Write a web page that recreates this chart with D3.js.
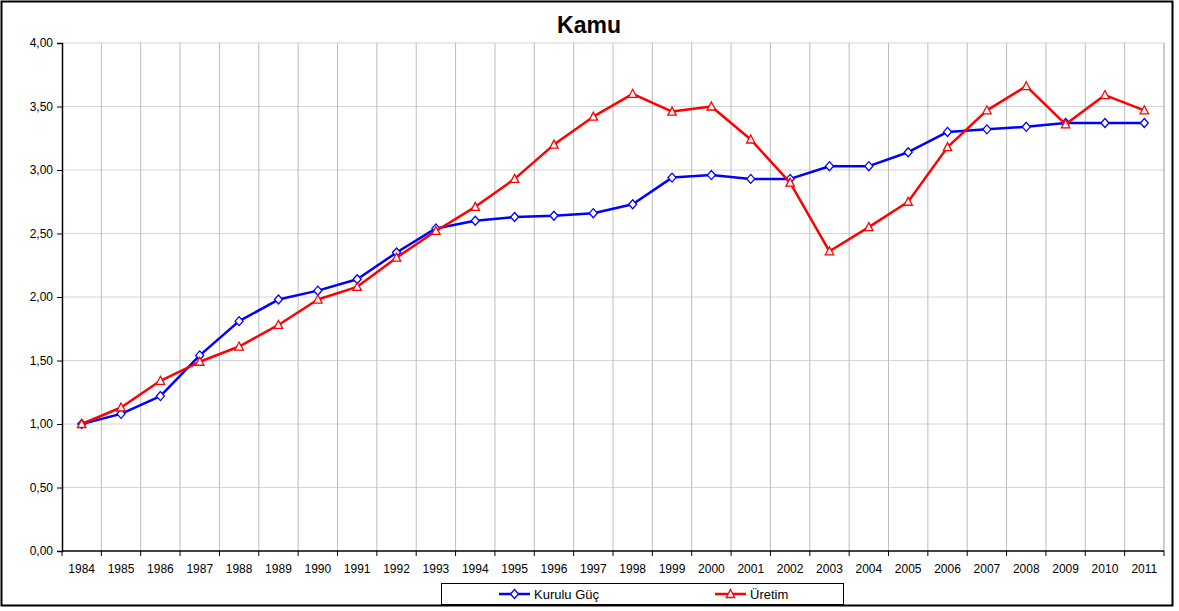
<!DOCTYPE html>
<html>
<head>
<meta charset="utf-8">
<script src="https://cdn.jsdelivr.net/npm/d3@7"></script>
<style>
  body { margin: 0; background: #fff; }
  text { font-family: "Liberation Sans", Arial, sans-serif; }
</style>
</head>
<body>
<svg id="chart" width="1179" height="611"></svg>
<script>
"use strict"

// data
var years = ["1984","1985","1986","1987","1988","1989","1990","1991","1992","1993",
             "1994","1995","1996","1997","1998","1999","2000","2001","2002","2003",
             "2004","2005","2006","2007","2008","2009","2010","2011"];

var kuruluGuc = [1.00, 1.08, 1.22, 1.54, 1.81, 1.98, 2.05, 2.14, 2.35, 2.54,
                 2.60, 2.63, 2.64, 2.66, 2.73, 2.94, 2.96, 2.93, 2.93, 3.03,
                 3.03, 3.14, 3.30, 3.32, 3.34, 3.37, 3.37, 3.37];

var uretim = [1.00, 1.13, 1.34, 1.49, 1.61, 1.78, 1.98, 2.08, 2.31, 2.52,
              2.71, 2.93, 3.20, 3.42, 3.60, 3.46, 3.50, 3.24, 2.90, 2.36,
              2.55, 2.75, 3.18, 3.47, 3.66, 3.36, 3.59, 3.47];

var yTicks = [0, 0.5, 1, 1.5, 2, 2.5, 3, 3.5, 4];

var seriesNames = ["Kurulu Güç", "Üretim"];

var plot = { left: 62, top: 43, right: 1164, bottom: 551 };

var svg = d3.select("#chart");

// outer frame
svg.append("rect")
    .attr("x", 1.5).attr("y", 1.5)
    .attr("width", 1171).attr("height", 604)
    .attr("fill", "#fff")
    .attr("stroke", "#000")
    .attr("stroke-width", 2);

svg.append("text")
    .attr("x", 589).attr("y", 33)
    .attr("text-anchor", "middle")
    .style("font-size", "23px")
    .style("font-weight", "bold")
    .text("Kamu");

var x = d3.scaleBand().domain(years).range([plot.left, plot.right]).padding(0);
var y = d3.scaleLinear().domain([0, 4]).range([plot.bottom, plot.top]);
var cx = function(i) { return x(years[i]) + x.bandwidth() / 2; };

var fmt = function(v) { return d3.format(".2f")(v).replace(".", ","); };

// horizontal grid
svg.append("g").selectAll("line")
    .data(yTicks.slice(1))
    .join("line")
    .attr("x1", plot.left).attr("x2", plot.right)
    .attr("y1", function(d) { return y(d); })
    .attr("y2", function(d) { return y(d); })
    .attr("stroke", "#d4d4d4")
    .attr("stroke-width", 1);

// vertical grid on category boundaries
svg.append("g").selectAll("line")
    .data(years.slice(1))
    .join("line")
    .attr("x1", function(d) { return x(d); })
    .attr("x2", function(d) { return x(d); })
    .attr("y1", plot.top).attr("y2", plot.bottom)
    .attr("stroke", "#bdbdbd")
    .attr("stroke-width", 1);

// right edge of plot area
svg.append("line")
    .attr("x1", plot.right).attr("x2", plot.right)
    .attr("y1", plot.top).attr("y2", plot.bottom)
    .attr("stroke", "#9a9a9a");

// y axis
var yAxis = d3.axisLeft(y).tickValues(yTicks).tickFormat(fmt).tickSize(5).tickPadding(4);
var gy = svg.append("g")
    .attr("transform", "translate(" + plot.left + ",0)")
    .call(yAxis);
gy.selectAll("text").style("font-size", "12px").attr("fill", "#000");
gy.select(".domain").attr("stroke-width", 1.5);

// x axis: ticks on boundaries, labels centered
var gx = svg.append("g")
    .attr("transform", "translate(0," + plot.bottom + ")");
gx.append("line")
    .attr("x1", plot.left).attr("x2", plot.right)
    .attr("stroke", "#000").attr("stroke-width", 1.5);
gx.selectAll(".tk")
    .data(years.concat(["end"]))
    .join("line")
    .attr("class", "tk")
    .attr("x1", function(d, i) { return plot.left + i * x.bandwidth(); })
    .attr("x2", function(d, i) { return plot.left + i * x.bandwidth(); })
    .attr("y1", 0).attr("y2", 5)
    .attr("stroke", "#000");
gx.selectAll(".lbl")
    .data(years)
    .join("text")
    .attr("class", "lbl")
    .attr("x", function(d, i) { return cx(i); })
    .attr("y", 22)
    .attr("text-anchor", "middle")
    .style("font-size", "12px")
    .text(function(d) { return d; });

var line = d3.line()
    .x(function(d, i) { return cx(i); })
    .y(function(d) { return y(d); });

var diamond = "M0,-4.5L4,0L0,4.5L-4,0Z";
var triangle = "M0,-4.5L4.2,3.5L-4.2,3.5Z";

function drawSeries(values, color, shape) {
    svg.append("path")
        .datum(values)
        .attr("d", line)
        .attr("fill", "none")
        .attr("stroke", color)
        .attr("stroke-width", 2.5)
        .attr("stroke-linejoin", "round");
    svg.append("g").selectAll("path")
        .data(values)
        .join("path")
        .attr("transform", function(d, i) { return "translate(" + cx(i) + "," + y(d) + ")"; })
        .attr("d", shape)
        .attr("fill", "#fff")
        .attr("stroke", color)
        .attr("stroke-width", 1.3);
}

drawSeries(kuruluGuc, "#0000ff", diamond);
drawSeries(uretim, "#ff0000", triangle);

// legend
var lg = svg.append("g");
lg.append("rect")
    .attr("x", 441.5).attr("y", 583.5)
    .attr("width", 402).attr("height", 21)
    .attr("fill", "#fff").attr("stroke", "#000");

var legendItems = [
    { name: seriesNames[0], color: "#0000ff", shape: diamond, x: 499 },
    { name: seriesNames[1], color: "#ff0000", shape: triangle, x: 715 }
];
legendItems.forEach(function(it) {
    lg.append("line")
        .attr("x1", it.x).attr("x2", it.x + 31)
        .attr("y1", 594).attr("y2", 594)
        .attr("stroke", it.color).attr("stroke-width", 2.5);
    lg.append("path")
        .attr("transform", "translate(" + (it.x + 15.5) + ",594)")
        .attr("d", it.shape)
        .attr("fill", "#fff").attr("stroke", it.color).attr("stroke-width", 1.3);
    lg.append("text")
        .attr("x", it.x + 35).attr("y", 599)
        .style("font-size", "13px")
        .text(it.name);
});
</script>
</body>
</html>
